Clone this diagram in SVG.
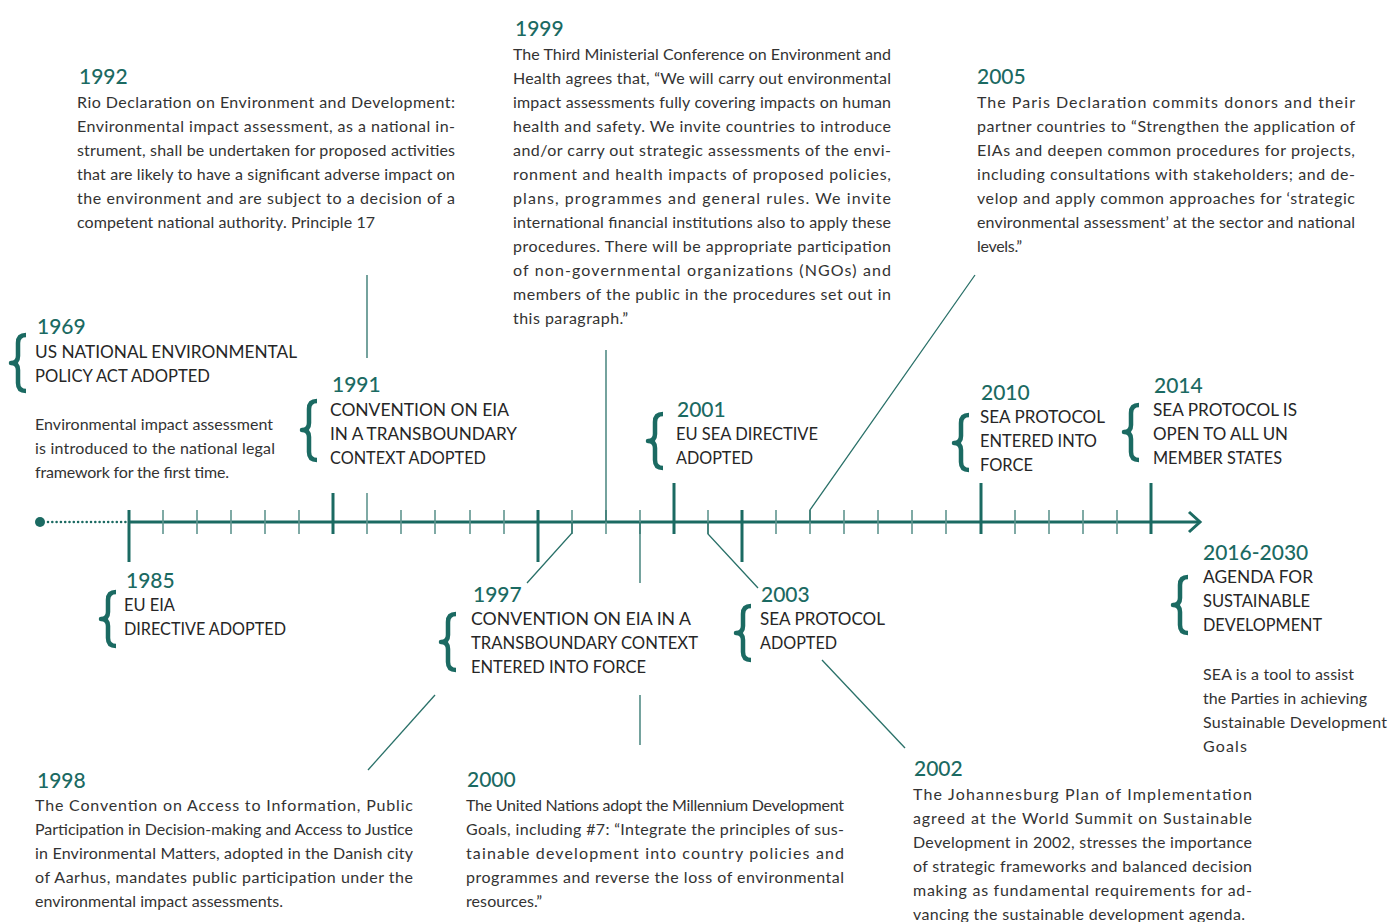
<svg xmlns="http://www.w3.org/2000/svg" width="1391" height="922" viewBox="0 0 1391 922">
<style>
.yr{font-family:Lato,"Liberation Sans",sans-serif;font-size:21px;fill:#1b6a62;font-weight:500}
.hd{font-family:Lato,"Liberation Sans",sans-serif;font-size:17px;fill:#262626}
.bd{font-family:Lato,"Liberation Sans",sans-serif;font-size:16px;fill:#333333}
.br{fill:none;stroke:#1b6a62;stroke-width:4.5;stroke-linecap:butt;stroke-linejoin:round}
.ax{stroke:#1b6a62;stroke-width:3;fill:none}
.mj{stroke:#1b6a62;stroke-width:3}
.mn{stroke:#5f958f;stroke-width:1.6}
.cn{stroke:#2a7169;stroke-width:1.3;fill:none}
</style>
<rect width="1391" height="922" fill="#ffffff"/>
<g id="connectors">
<circle cx="40" cy="522" r="5" fill="#1b6a62"/>
<line x1="48" y1="522" x2="127" y2="522" stroke="#1b6a62" stroke-width="2.6" stroke-dasharray="0 4.3" stroke-linecap="round"/>
<line class="ax" x1="129" y1="522" x2="1199" y2="522"/>
<polyline class="ax" points="1189,512 1200,522 1189,532"/>
<line class="mj" x1="129" y1="510" x2="129" y2="562"/>
<line class="mn" x1="163" y1="510" x2="163" y2="534"/>
<line class="mn" x1="197" y1="510" x2="197" y2="534"/>
<line class="mn" x1="231" y1="510" x2="231" y2="534"/>
<line class="mn" x1="265" y1="510" x2="265" y2="534"/>
<line class="mn" x1="299" y1="510" x2="299" y2="534"/>
<line class="mj" x1="333" y1="493" x2="333" y2="534"/>
<line class="mn" x1="367" y1="493" x2="367" y2="534"/>
<line class="mn" x1="401" y1="510" x2="401" y2="534"/>
<line class="mn" x1="435" y1="510" x2="435" y2="534"/>
<line class="mn" x1="470" y1="510" x2="470" y2="534"/>
<line class="mn" x1="504" y1="510" x2="504" y2="534"/>
<line class="mj" x1="538" y1="510" x2="538" y2="562"/>
<line class="mn" x1="572" y1="510" x2="572" y2="534"/>
<line class="mn" x1="606" y1="510" x2="606" y2="534"/>
<line class="mn" x1="640" y1="510" x2="640" y2="534"/>
<line class="mj" x1="674" y1="483" x2="674" y2="534"/>
<line class="mn" x1="708" y1="510" x2="708" y2="534"/>
<line class="mj" x1="742" y1="510" x2="742" y2="562"/>
<line class="mn" x1="776" y1="510" x2="776" y2="534"/>
<line class="mn" x1="810" y1="510" x2="810" y2="534"/>
<line class="mn" x1="844" y1="510" x2="844" y2="534"/>
<line class="mn" x1="878" y1="510" x2="878" y2="534"/>
<line class="mn" x1="912" y1="510" x2="912" y2="534"/>
<line class="mn" x1="946" y1="510" x2="946" y2="534"/>
<line class="mj" x1="981" y1="483" x2="981" y2="534"/>
<line class="mn" x1="1015" y1="510" x2="1015" y2="534"/>
<line class="mn" x1="1049" y1="510" x2="1049" y2="534"/>
<line class="mn" x1="1083" y1="510" x2="1083" y2="534"/>
<line class="mn" x1="1117" y1="510" x2="1117" y2="534"/>
<line class="mj" x1="1151" y1="483" x2="1151" y2="534"/>
<line class="cn" x1="367" y1="275" x2="367" y2="358"/>
<line class="cn" x1="606" y1="350" x2="606" y2="522"/>
<polyline class="cn" points="572,522 572,533 527,583"/>
<line class="cn" x1="435" y1="695" x2="368" y2="770"/>
<line class="cn" x1="640" y1="522" x2="640" y2="583"/>
<line class="cn" x1="640" y1="695" x2="640" y2="745"/>
<polyline class="cn" points="708,522 708,534 758,588"/>
<line class="cn" x1="822" y1="660" x2="905" y2="748"/>
<polyline class="cn" points="810,522 810,510 975,275"/>
</g>
<g id="n1969">
<path class="br" d="M26,335 Q18,335 18,343 L18,356 Q18,363 11,363 Q18,363 18,370 L18,383 Q18,391 26,391"/>
<text class="yr" x="37" y="334">1969</text>
<text class="hd" x="35" y="358" textLength="262" lengthAdjust="spacingAndGlyphs">US NATIONAL ENVIRONMENTAL</text>
<text class="hd" x="35" y="382" textLength="175" lengthAdjust="spacingAndGlyphs">POLICY ACT ADOPTED</text>
<text class="bd" x="35" y="430" textLength="238">Environmental impact assessment</text>
<text class="bd" x="35" y="454" textLength="240">is introduced to the national legal</text>
<text class="bd" x="35" y="478" textLength="194">framework for the first time.</text>
</g>
<g id="n1985">
<path class="br" d="M116,592 Q108,592 108,600 L108,612 Q108,619 101,619 Q108,619 108,626 L108,638 Q108,646 116,646"/>
<text class="yr" x="126" y="588">1985</text>
<text class="hd" x="124" y="611" textLength="51" lengthAdjust="spacingAndGlyphs">EU EIA</text>
<text class="hd" x="124" y="635" textLength="162" lengthAdjust="spacingAndGlyphs">DIRECTIVE ADOPTED</text>
</g>
<g id="n1991">
<path class="br" d="M317,401 Q309,401 309,409 L309,423 Q309,430 302,430 Q309,430 309,437 L309,452 Q309,460 317,460"/>
<text class="yr" x="332" y="392">1991</text>
<text class="hd" x="330" y="416" textLength="179" lengthAdjust="spacingAndGlyphs">CONVENTION ON EIA</text>
<text class="hd" x="330" y="440" textLength="187" lengthAdjust="spacingAndGlyphs">IN A TRANSBOUNDARY</text>
<text class="hd" x="330" y="464" textLength="156" lengthAdjust="spacingAndGlyphs">CONTEXT ADOPTED</text>
</g>
<g id="n1992">
<text class="yr" x="79" y="84">1992</text>
<text class="bd" x="77" y="108" textLength="378">Rio Declaration on Environment and Development:</text>
<text class="bd" x="77" y="132" textLength="378">Environmental impact assessment, as a national in-</text>
<text class="bd" x="77" y="156" textLength="378">strument, shall be undertaken for proposed activities</text>
<text class="bd" x="77" y="180" textLength="378">that are likely to have a significant adverse impact on</text>
<text class="bd" x="77" y="204" textLength="378">the environment and are subject to a decision of a</text>
<text class="bd" x="77" y="228" textLength="298">competent national authority. Principle 17</text>
</g>
<g id="n1997">
<path class="br" d="M456,614 Q448,614 448,622 L448,635 Q448,642 441,642 Q448,642 448,649 L448,662 Q448,670 456,670"/>
<text class="yr" x="473" y="602">1997</text>
<text class="hd" x="471" y="625" textLength="220" lengthAdjust="spacingAndGlyphs">CONVENTION ON EIA IN A</text>
<text class="hd" x="471" y="649" textLength="227" lengthAdjust="spacingAndGlyphs">TRANSBOUNDARY CONTEXT</text>
<text class="hd" x="471" y="673" textLength="175" lengthAdjust="spacingAndGlyphs">ENTERED INTO FORCE</text>
</g>
<g id="n1998">
<text class="yr" x="37" y="788">1998</text>
<text class="bd" x="35" y="811" textLength="378">The Convention on Access to Information, Public</text>
<text class="bd" x="35" y="835" textLength="378">Participation in Decision-making and Access to Justice</text>
<text class="bd" x="35" y="859" textLength="378">in Environmental Matters, adopted in the Danish city</text>
<text class="bd" x="35" y="883" textLength="378">of Aarhus, mandates public participation under the</text>
<text class="bd" x="35" y="907" textLength="248">environmental impact assessments.</text>
</g>
<g id="n1999">
<text class="yr" x="515" y="36">1999</text>
<text class="bd" x="513" y="60" textLength="378">The Third Ministerial Conference on Environment and</text>
<text class="bd" x="513" y="84" textLength="378">Health agrees that, “We will carry out environmental</text>
<text class="bd" x="513" y="108" textLength="378">impact assessments fully covering impacts on human</text>
<text class="bd" x="513" y="132" textLength="378">health and safety. We invite countries to introduce</text>
<text class="bd" x="513" y="156" textLength="378">and/or carry out strategic assessments of the envi-</text>
<text class="bd" x="513" y="180" textLength="378">ronment and health impacts of proposed policies,</text>
<text class="bd" x="513" y="204" textLength="378">plans, programmes and general rules. We invite</text>
<text class="bd" x="513" y="228" textLength="378">international financial institutions also to apply these</text>
<text class="bd" x="513" y="252" textLength="378">procedures. There will be appropriate participation</text>
<text class="bd" x="513" y="276" textLength="378">of non-governmental organizations (NGOs) and</text>
<text class="bd" x="513" y="300" textLength="378">members of the public in the procedures set out in</text>
<text class="bd" x="513" y="324" textLength="115">this paragraph.”</text>
</g>
<g id="n2000">
<text class="yr" x="467" y="787">2000</text>
<text class="bd" x="466" y="811" textLength="378">The United Nations adopt the Millennium Development</text>
<text class="bd" x="466" y="835" textLength="378">Goals, including #7: “Integrate the principles of sus-</text>
<text class="bd" x="466" y="859" textLength="378">tainable development into country policies and</text>
<text class="bd" x="466" y="883" textLength="378">programmes and reverse the loss of environmental</text>
<text class="bd" x="466" y="907" textLength="76">resources.”</text>
</g>
<g id="n2001">
<path class="br" d="M663,414 Q655,414 655,422 L655,434 Q655,441 648,441 Q655,441 655,448 L655,460 Q655,468 663,468"/>
<text class="yr" x="677" y="417">2001</text>
<text class="hd" x="676" y="440" textLength="142" lengthAdjust="spacingAndGlyphs">EU SEA DIRECTIVE</text>
<text class="hd" x="676" y="464" textLength="77" lengthAdjust="spacingAndGlyphs">ADOPTED</text>
</g>
<g id="n2002">
<text class="yr" x="914" y="776">2002</text>
<text class="bd" x="913" y="800" textLength="339">The Johannesburg Plan of Implementation</text>
<text class="bd" x="913" y="824" textLength="339">agreed at the World Summit on Sustainable</text>
<text class="bd" x="913" y="848" textLength="339">Development in 2002, stresses the importance</text>
<text class="bd" x="913" y="872" textLength="339">of strategic frameworks and balanced decision</text>
<text class="bd" x="913" y="896" textLength="339">making as fundamental requirements for ad-</text>
<text class="bd" x="913" y="920" textLength="332">vancing the sustainable development agenda.</text>
</g>
<g id="n2003">
<path class="br" d="M751,606 Q743,606 743,614 L743,626 Q743,633 736,633 Q743,633 743,640 L743,652 Q743,660 751,660"/>
<text class="yr" x="761" y="602">2003</text>
<text class="hd" x="760" y="625" textLength="125" lengthAdjust="spacingAndGlyphs">SEA PROTOCOL</text>
<text class="hd" x="760" y="649" textLength="77" lengthAdjust="spacingAndGlyphs">ADOPTED</text>
</g>
<g id="n2005">
<text class="yr" x="977" y="84">2005</text>
<text class="bd" x="977" y="108" textLength="378">The Paris Declaration commits donors and their</text>
<text class="bd" x="977" y="132" textLength="378">partner countries to “Strengthen the application of</text>
<text class="bd" x="977" y="156" textLength="378">EIAs and deepen common procedures for projects,</text>
<text class="bd" x="977" y="180" textLength="378">including consultations with stakeholders; and de-</text>
<text class="bd" x="977" y="204" textLength="378">velop and apply common approaches for ‘strategic</text>
<text class="bd" x="977" y="228" textLength="378">environmental assessment’ at the sector and national</text>
<text class="bd" x="977" y="252" textLength="45">levels.”</text>
</g>
<g id="n2010">
<path class="br" d="M969,415 Q961,415 961,423 L961,436 Q961,443 954,443 Q961,443 961,450 L961,462 Q961,470 969,470"/>
<text class="yr" x="981" y="400">2010</text>
<text class="hd" x="980" y="423" textLength="125" lengthAdjust="spacingAndGlyphs">SEA PROTOCOL</text>
<text class="hd" x="980" y="447" textLength="117" lengthAdjust="spacingAndGlyphs">ENTERED INTO</text>
<text class="hd" x="980" y="471" textLength="53" lengthAdjust="spacingAndGlyphs">FORCE</text>
</g>
<g id="n2014">
<path class="br" d="M1139,405 Q1131,405 1131,413 L1131,425 Q1131,432 1124,432 Q1131,432 1131,439 L1131,452 Q1131,460 1139,460"/>
<text class="yr" x="1154" y="393">2014</text>
<text class="hd" x="1153" y="416" textLength="144" lengthAdjust="spacingAndGlyphs">SEA PROTOCOL IS</text>
<text class="hd" x="1153" y="440" textLength="135" lengthAdjust="spacingAndGlyphs">OPEN TO ALL UN</text>
<text class="hd" x="1153" y="464" textLength="129" lengthAdjust="spacingAndGlyphs">MEMBER STATES</text>
</g>
<g id="n2016">
<path class="br" d="M1188,577 Q1180,577 1180,585 L1180,598 Q1180,605 1173,605 Q1180,605 1180,612 L1180,625 Q1180,633 1188,633"/>
<text class="yr" x="1203" y="560">2016-2030</text>
<text class="hd" x="1203" y="583" textLength="110" lengthAdjust="spacingAndGlyphs">AGENDA FOR</text>
<text class="hd" x="1203" y="607" textLength="107" lengthAdjust="spacingAndGlyphs">SUSTAINABLE</text>
<text class="hd" x="1203" y="631" textLength="119" lengthAdjust="spacingAndGlyphs">DEVELOPMENT</text>
<text class="bd" x="1203" y="680" textLength="151">SEA is a tool to assist</text>
<text class="bd" x="1203" y="704" textLength="164">the Parties in achieving</text>
<text class="bd" x="1203" y="728" textLength="184">Sustainable Development</text>
<text class="bd" x="1203" y="752" textLength="44">Goals</text>
</g>
</svg>
